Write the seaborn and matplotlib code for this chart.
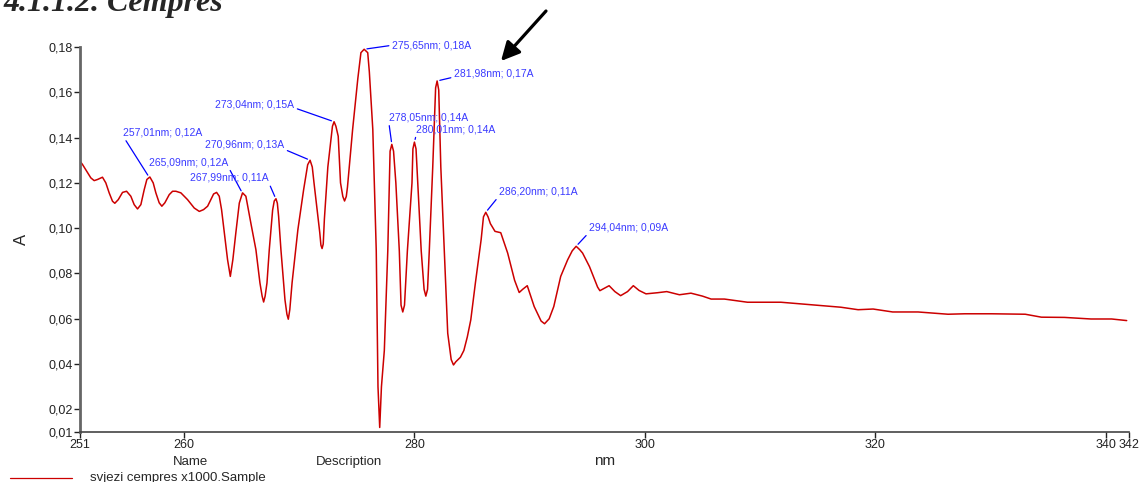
import numpy as np
import pandas as pd
import seaborn as sns
import matplotlib.pyplot as plt
from matplotlib.ticker import FuncFormatter

# spectrum (wavelength in nm, absorbance)
wavelength = [
    251.0, 251.22, 251.94, 252.23, 252.52, 252.95, 253.24, 253.53, 253.82, 254.02,
    254.32, 254.69, 255.04, 255.41, 255.7, 255.99, 256.28, 256.57, 256.8, 257.06,
    257.35, 257.58, 257.87, 258.1, 258.36, 258.74, 259.03, 259.32, 259.75, 260.33,
    260.91, 261.35, 261.72, 262.07, 262.35, 262.59, 262.85, 263.08, 263.28, 263.52,
    263.8, 264.04, 264.26, 264.52, 264.82, 265.1, 265.39, 265.83, 266.26, 266.61,
    266.8, 266.93, 267.06, 267.22, 267.42, 267.71, 267.85, 268.0, 268.12, 268.23,
    268.43, 268.78, 268.95, 269.07, 269.2, 269.4, 269.9, 270.4, 270.75, 270.96,
    271.15, 271.3, 271.8, 271.9, 272.0, 272.1, 272.2, 272.5, 272.8, 272.9,
    273.04, 273.2, 273.4, 273.6, 273.8, 273.95, 274.1, 274.2, 274.5, 274.65,
    275.1, 275.37, 275.65, 275.96, 276.1, 276.4, 276.7, 276.85, 277.0, 277.15,
    277.4, 277.7, 277.9, 278.05, 278.2, 278.4, 278.7, 278.85, 279.0, 279.15,
    279.4, 279.8, 279.88, 280.01, 280.15, 280.3, 280.6, 280.85, 281.0, 281.15,
    281.3, 281.6, 281.85, 281.98, 282.12, 282.3, 282.6, 282.9, 283.2, 283.4,
    283.6, 284.0, 284.3, 284.6, 284.9, 285.3, 285.8, 286.0, 286.2, 286.4,
    286.6, 287.0, 287.5, 288.1, 288.7, 289.1, 289.4, 289.8, 290.4, 291.0,
    291.3, 291.7, 292.1, 292.7, 293.3, 293.7, 294.04, 294.35, 294.6, 295.2,
    295.9, 296.1, 296.5, 296.9, 297.4, 297.9, 298.5, 299.0, 299.5, 300.1,
    301.1, 301.9, 303.0, 304.0, 305.0, 305.75, 306.9, 308.9, 311.8, 314.4,
    317.0, 318.5, 319.8, 321.5, 323.7, 326.3, 327.75, 330.1, 333.0, 334.4,
    336.4, 338.7, 340.5, 341.8,
]
absorbance = [
    0.1296, 0.1281, 0.1222, 0.1210, 0.1215, 0.1225, 0.1200, 0.1156, 0.1119, 0.1110,
    0.1126, 0.1158, 0.1163, 0.1141, 0.1104, 0.1085, 0.1104, 0.1170, 0.1215, 0.1226,
    0.1200, 0.1156, 0.1112, 0.1097, 0.1112, 0.1148, 0.1163, 0.1163, 0.1156, 0.1126,
    0.1089, 0.1074, 0.1082, 0.1097, 0.1126, 0.1151, 0.1158, 0.1141, 0.1082, 0.0980,
    0.0861, 0.0787, 0.0861, 0.0980, 0.1111, 0.1156, 0.1141, 0.1020, 0.0905, 0.0758,
    0.0700, 0.0674, 0.0700, 0.0758, 0.0905, 0.1080, 0.1120, 0.1130, 0.1110, 0.1052,
    0.0905, 0.0684, 0.0620, 0.0598, 0.0640, 0.0760, 0.0993, 0.1170, 0.1280, 0.1300,
    0.1270, 0.1200, 0.0980, 0.0925, 0.0910, 0.0930, 0.1040, 0.1270, 0.1406, 0.1450,
    0.1470, 0.1450, 0.1406, 0.1200, 0.1140, 0.1120, 0.1140, 0.1180, 0.1350, 0.1436,
    0.1660, 0.1775, 0.1790, 0.1775, 0.1690, 0.1436, 0.0900, 0.0300, 0.0120, 0.0300,
    0.0460, 0.0900, 0.1340, 0.1370, 0.1340, 0.1200, 0.0900, 0.0660, 0.0630, 0.0660,
    0.0900, 0.1200, 0.1350, 0.1380, 0.1350, 0.1200, 0.0900, 0.0730, 0.0700, 0.0730,
    0.0900, 0.1270, 0.1620, 0.1650, 0.1610, 0.1270, 0.0900, 0.0536, 0.0420, 0.0396,
    0.0410, 0.0430, 0.0460, 0.0520, 0.0595, 0.0758, 0.0950, 0.1050, 0.1070, 0.1050,
    0.1020, 0.0986, 0.0980, 0.0890, 0.0770, 0.0716, 0.0730, 0.0746, 0.0654, 0.0590,
    0.0578, 0.0600, 0.0654, 0.0787, 0.0860, 0.0900, 0.0920, 0.0905, 0.0890, 0.0830,
    0.0740, 0.0724, 0.0735, 0.0746, 0.0720, 0.0702, 0.0720, 0.0746, 0.0725, 0.0710,
    0.0715, 0.0720, 0.0706, 0.0713, 0.0700, 0.0687, 0.0687, 0.0673, 0.0673, 0.0662,
    0.0651, 0.0640, 0.0643, 0.0630, 0.0630, 0.0620, 0.0622, 0.0622, 0.0620, 0.0607,
    0.0606, 0.0599, 0.0599, 0.0592,
]

# labelled peaks
peak_nm = [275.65, 281.98, 273.04, 257.01, 270.96, 265.09, 267.99, 278.05, 280.01, 286.20, 294.04]
peak_abs = [0.18, 0.17, 0.15, 0.12, 0.13, 0.12, 0.11, 0.14, 0.14, 0.11, 0.09]

x_ticks = [251, 260, 280, 300, 320, 340, 342]
y_ticks = [0.01, 0.02, 0.04, 0.06, 0.08, 0.10, 0.12, 0.14, 0.16, 0.18]

# label placement: (dx px, dy px, ha, relpos) relative to the peak
label_pos = [
    (28, 4, 'left', (0, 0.5)),
    (17, 7, 'left', (0, 0.2)),
    (-40, 17, 'right', (1, 0.2)),
    (-26, 45, 'left', (0, 0.1)),
    (-26, 16, 'right', (1, 0.0)),
    (-14, 31, 'right', (1, 0.0)),
    (-7, 21, 'right', (1, 0.0)),
    (-3, 27, 'left', (0, 0.0)),
    (2, 13, 'left', (0, 0.0)),
    (13, 21, 'left', (0, 0.0)),
    (13, 19, 'left', (0, 0.0)),
]

df = pd.DataFrame({'nm': wavelength, 'A': absorbance})

sns.set_style('white')
plt.rcParams['font.family'] = ['Liberation Sans', 'DejaVu Sans']

fig = plt.figure(figsize=(11.45, 4.82), dpi=100)
ax = fig.add_axes([80 / 1145, 1 - 432 / 482, (1129 - 80) / 1145, (432 - 47) / 482])

red = '#cc0000'
sns.lineplot(data=df, x='nm', y='A', ax=ax, color=red, linewidth=1.1, sort=False)

ax.set_xlim(251, 342)
ax.set_ylim(0.01, 0.18)
ax.set_xticks(x_ticks)
ax.set_yticks(y_ticks)
comma = FuncFormatter(lambda v, p: f'{v:.2f}'.replace('.', ','))
ax.yaxis.set_major_formatter(comma)
ax.xaxis.set_major_formatter(FuncFormatter(lambda v, p: f'{v:.0f}'))
ax.tick_params(axis='both', direction='out', length=4, width=1, labelsize=9,
               colors='#222222', pad=1, left=True, bottom=True)
ax.set_xlabel('nm', fontsize=11, labelpad=2)
ax.set_ylabel('A', fontsize=12, labelpad=14)

for s in ['top', 'right']:
    ax.spines[s].set_visible(False)
ax.spines['left'].set_color('#666666')
ax.spines['left'].set_linewidth(2)
ax.spines['bottom'].set_color('#444444')
ax.spines['bottom'].set_linewidth(1.2)

for nm, a, (dx, dy, ha, rp) in zip(peak_nm, peak_abs, label_pos):
    y_at = np.interp(nm, wavelength, absorbance)
    label = f'{nm:.2f}nm; {a:.2f}A'.replace('.', ',')
    ax.annotate(label, xy=(nm, y_at), xytext=(dx, dy), textcoords='offset pixels',
                ha=ha, va='center', fontsize=7.5, color='#3a3aff',
                arrowprops=dict(arrowstyle='-', color='#0000ff', lw=0.9,
                                relpos=rp, shrinkA=0, shrinkB=2))

# title, arrow and legend strip
fig.text(0.003, 1 - 11 / 482, '4.1.1.2. Cempres', fontsize=23, fontweight='bold',
         fontstyle='italic', family='Liberation Serif', va='baseline', ha='left')
ax.annotate('', xy=(501, 482 - 61), xytext=(546, 482 - 11), xycoords='figure pixels',
            textcoords='figure pixels',
            arrowprops=dict(arrowstyle='-|>', color='black', lw=2.3, mutation_scale=28,
                            shrinkA=0, shrinkB=0))

fig.text(190 / 1145, 1 - 462 / 482, 'Name', fontsize=9.5, ha='center', va='center')
fig.text(349 / 1145, 1 - 462 / 482, 'Description', fontsize=9.5, ha='center', va='center')
fig.add_artist(plt.Line2D([10 / 1145, 72 / 1145], [1 - 478 / 482, 1 - 478 / 482],
                          color=red, lw=0.9))
fig.text(90 / 1145, 1 - 478 / 482, 'svjezi cempres x1000.Sample', fontsize=9.5,
         ha='left', va='center')

fig.savefig('out.png', dpi=100)
